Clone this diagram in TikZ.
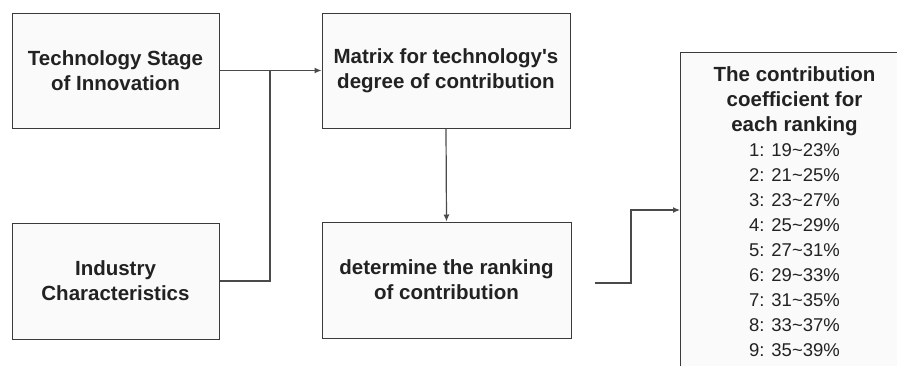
\documentclass[tikz,border=0pt]{standalone}
\usepackage{fontspec}
\setmainfont{Liberation Sans}[Ligatures=TeXOff]
\usetikzlibrary{arrows.meta}
\definecolor{boxfill}{HTML}{FAFAFA}
\definecolor{txt}{HTML}{222222}
\definecolor{edge}{HTML}{3A3A3A}
\definecolor{wire}{HTML}{4A4A4A}
\tikzset{
  stepbox/.style={draw=edge, line width=1pt, fill=boxfill, text=txt, align=center,
    inner sep=0pt, font=\fontsize{20.5}{25}\selectfont\bfseries},
  wire/.style={draw=wire, line width=1.2pt},
  arr/.style={wire, -{Latex[length=7pt,width=6pt]}}
}
\begin{document}
\begin{tikzpicture}[x=1pt,y=-1pt]
\useasboundingbox (0,0) rectangle (897,365);
\clip (0,0) rectangle (897,365);
\node[stepbox, minimum width=207pt, minimum height=115pt] (tech) at (115.5,70.5) {Technology Stage\\of Innovation};
\node[stepbox, minimum width=248pt, minimum height=115pt] (matrix) at (446,70.5) {Matrix for technology's\\degree of contribution};
\node[stepbox, minimum width=207pt, minimum height=116pt] (ind) at (115.5,281) {Industry\\Characteristics};
\node[stepbox, minimum width=249pt, minimum height=116pt] (rank) at (446.5,280) {determine the ranking\\of contribution};
\node[stepbox, minimum width=228pt, minimum height=318pt, anchor=north west] (coef) at (680,52)
 {The contribution\\coefficient for\\each ranking\\
 \mdseries\fontsize{18.5}{25}\selectfont 1: 19\textasciitilde 23\%\\
 \mdseries\fontsize{18.5}{25}\selectfont 2: 21\textasciitilde 25\%\\
 \mdseries\fontsize{18.5}{25}\selectfont 3: 23\textasciitilde 27\%\\
 \mdseries\fontsize{18.5}{25}\selectfont 4: 25\textasciitilde 29\%\\
 \mdseries\fontsize{18.5}{25}\selectfont 5: 27\textasciitilde 31\%\\
 \mdseries\fontsize{18.5}{25}\selectfont 6: 29\textasciitilde 33\%\\
 \mdseries\fontsize{18.5}{25}\selectfont 7: 31\textasciitilde 35\%\\
 \mdseries\fontsize{18.5}{25}\selectfont 8: 33\textasciitilde 37\%\\
 \mdseries\fontsize{18.5}{25}\selectfont 9: 35\textasciitilde 39\%};
\coordinate (j) at (270,70.5);
\coordinate (rs) at (595,283);
\draw[arr] (tech.east) -- (matrix.west);
\draw[wire] (ind.east) -| (j);
\draw[arr] (matrix.south) -- (rank.north);
\draw[arr] (rs) -- (631,283) |- (coef.west |- 0,210);
\end{tikzpicture}
\end{document}
